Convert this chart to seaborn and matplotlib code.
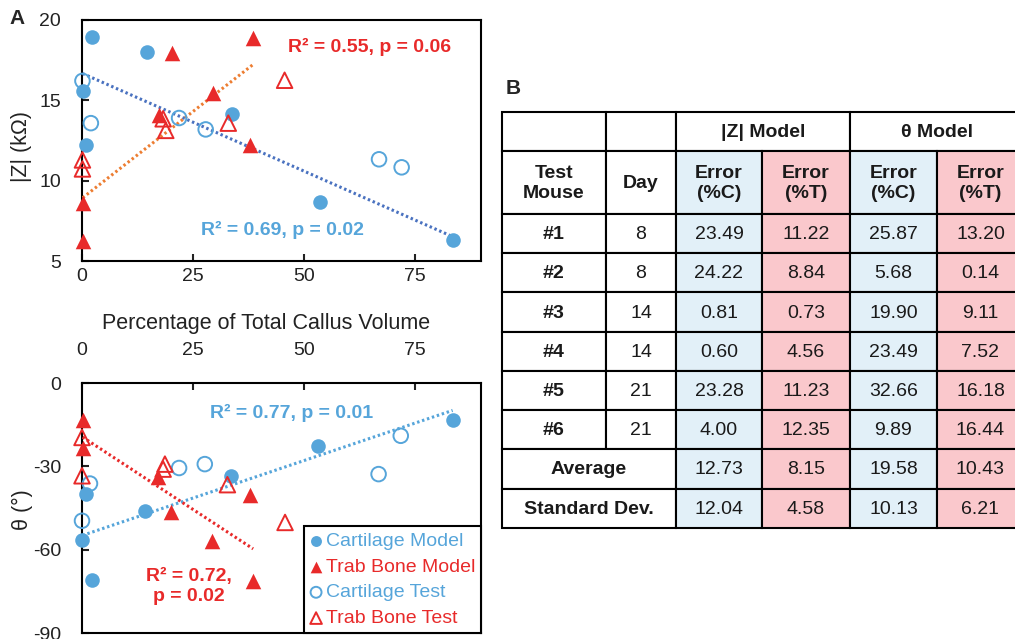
import numpy as np
import pandas as pd
import matplotlib
matplotlib.use("Agg")
import matplotlib.pyplot as plt
from matplotlib.patches import Rectangle
import seaborn as sns

# ---------------- data: panel A ----------------
# |Z| (kOhm) versus percentage of total callus volume
cart_model_x_z = [2.2, 14.6, 0.15, 0.9, 33.8, 53.6, 83.6]
cart_model_z = [18.92, 17.98, 15.56, 12.25, 14.17, 8.65, 6.29]
trab_model_x_z = [38.6, 20.2, 29.6, 17.3, 38.0, 0.15, 0.3]
trab_model_z = [18.85, 17.96, 15.48, 14.06, 12.19, 8.64, 6.25]
cart_test_x_z = [0.1, 2.0, 21.9, 27.9, 67.0, 72.1]
cart_test_z = [16.21, 13.58, 13.9, 13.19, 11.33, 10.83]
trab_test_x_z = [45.7, 18.3, 18.9, 33.0, 0.1, 0.1]
trab_test_z = [16.25, 13.85, 13.13, 13.58, 11.29, 10.73]

# phase angle (deg) versus percentage of total callus volume
cart_model_x_t = [83.6, 53.3, 33.7, 14.3, 0.9, 0.1, 2.2]
cart_model_t = [-13.2, -22.8, -33.6, -46.0, -39.8, -56.6, -71.0]
trab_model_x_t = [0.15, 0.15, 17.2, 20.0, 38.0, 29.4, 38.6]
trab_model_t = [-13.2, -23.4, -33.8, -46.4, -40.2, -57.0, -71.4]
cart_test_x_t = [71.9, 21.9, 27.7, 66.9, 1.8, 0.0]
cart_test_t = [-19.0, -30.6, -29.2, -32.8, -36.2, -49.6]
trab_test_x_t = [0.0, 0.0, 18.7, 18.3, 32.8, 45.8]
trab_test_t = [-19.6, -33.4, -29.2, -31.0, -36.6, -50.2]

stats_z_trab = "R\u00b2 = 0.55, p = 0.06"
stats_z_cart = "R\u00b2 = 0.69, p = 0.02"
stats_t_cart = "R\u00b2 = 0.77, p = 0.01"
stats_t_trab = "R\u00b2 = 0.72,\np = 0.02"

x_ticks = [0, 25, 50, 75]
z_ticks = [5, 10, 15, 20]
t_ticks = [0, -30, -60, -90]

# ---------------- data: panel B ----------------
mice = ["#1", "#2", "#3", "#4", "#5", "#6"]
days = [8, 8, 14, 14, 21, 21]
z_err_c = [23.49, 24.22, 0.81, 0.60, 23.28, 4.00]
z_err_t = [11.22, 8.84, 0.73, 4.56, 11.23, 12.35]
t_err_c = [25.87, 5.68, 19.90, 23.49, 32.66, 9.89]
t_err_t = [13.20, 0.14, 9.11, 7.52, 16.18, 16.44]
summary_labels = ["Average", "Standard Dev."]
summary_vals = [[12.73, 8.15, 19.58, 10.43],
                [12.04, 4.58, 10.13, 6.21]]

# ---------------- style ----------------
sns.set_theme(style="white")
plt.rcParams["font.family"] = ["Liberation Sans", "DejaVu Sans"]
plt.rcParams["axes.linewidth"] = 1.5
plt.rcParams["axes.edgecolor"] = "black"
plt.rcParams["axes.unicode_minus"] = False
plt.rcParams["xtick.color"] = "#222222"
plt.rcParams["ytick.color"] = "#222222"

BLUE = "#56a5da"
RED = "#e82a2a"
LINE_BLUE = "#4a72c0"
LINE_ORANGE = "#ed7d31"
CELL_BLUE = "#e2f0f8"
CELL_PINK = "#fac8cc"
DOTS = (0, (0.8, 0.9))

fig = plt.figure(figsize=(10.15, 6.39), dpi=100)
W, H = 1015, 639


def px_axes(left, top, right, bottom):
    return fig.add_axes([left / W, 1 - bottom / H, (right - left) / W, (bottom - top) / H])


ax_z = px_axes(82, 20, 481, 261)
ax_t = px_axes(82, 383, 481, 633)

S_CIRC, S_TRI = 110, 125


def draw_series(ax, cx_m, cy_m, tx_m, ty_m, cx_t, cy_t, tx_t, ty_t):
    sns.scatterplot(x=cx_m, y=cy_m, ax=ax, marker="o", s=S_CIRC, color=BLUE,
                    edgecolor=BLUE, linewidth=0, clip_on=False, zorder=4,
                    label="Cartilage Model")
    sns.scatterplot(x=tx_m, y=ty_m, ax=ax, marker="^", s=S_TRI, color=RED,
                    edgecolor=RED, linewidth=0, clip_on=False, zorder=4,
                    label="Trab Bone Model")
    sns.scatterplot(x=cx_t, y=cy_t, ax=ax, marker="o", s=S_CIRC, color=BLUE,
                    facecolor="none", edgecolor=BLUE, linewidth=1.4,
                    clip_on=False, zorder=4, label="Cartilage Test")
    sns.scatterplot(x=tx_t, y=ty_t, ax=ax, marker="^", s=S_TRI, color=RED,
                    facecolor="none", edgecolor=RED, linewidth=1.4,
                    clip_on=False, zorder=4, label="Trab Bone Test")


# ---- |Z| panel ----
draw_series(ax_z, cart_model_x_z, cart_model_z, trab_model_x_z, trab_model_z,
            cart_test_x_z, cart_test_z, trab_test_x_z, trab_test_z)
sns.regplot(x=np.array(cart_model_x_z), y=np.array(cart_model_z), ax=ax_z,
            scatter=False, ci=None, truncate=True,
            line_kws=dict(color=LINE_BLUE, lw=2.2, ls=DOTS, zorder=3))
sns.regplot(x=np.array(trab_model_x_z), y=np.array(trab_model_z), ax=ax_z,
            scatter=False, ci=None, truncate=True,
            line_kws=dict(color=LINE_ORANGE, lw=2.2, ls=DOTS, zorder=3))
ax_z.set_xlim(0, 90)
ax_z.set_ylim(5, 20)
ax_z.set_xticks(x_ticks)
ax_z.set_yticks(z_ticks)
ax_z.tick_params(axis="x", direction="in", length=5, width=1.5, pad=5,
                 labelsize=14, bottom=True, top=False)
ax_z.tick_params(axis="y", direction="in", length=5, width=1.5, pad=15,
                 labelsize=14, left=True, right=False)
ax_z.set_xlabel("")
ax_z.set_ylabel("")
ax_z.get_legend().remove()
ax_z.text(64.9, 18.3, stats_z_trab, color=RED, fontsize=14, fontweight="bold",
          ha="center", va="center")
ax_z.text(45.3, 6.94, stats_z_cart, color=BLUE, fontsize=14, fontweight="bold",
          ha="center", va="center")

# ---- theta panel ----
draw_series(ax_t, cart_model_x_t, cart_model_t, trab_model_x_t, trab_model_t,
            cart_test_x_t, cart_test_t, trab_test_x_t, trab_test_t)
sns.regplot(x=np.array(cart_model_x_t), y=np.array(cart_model_t), ax=ax_t,
            scatter=False, ci=None, truncate=True,
            line_kws=dict(color=BLUE, lw=2.2, ls=DOTS, zorder=3))
sns.regplot(x=np.array(trab_model_x_t), y=np.array(trab_model_t), ax=ax_t,
            scatter=False, ci=None, truncate=True,
            line_kws=dict(color=RED, lw=2.2, ls=DOTS, zorder=3))
ax_t.set_xlim(0, 90)
ax_t.set_ylim(-90, 0)
ax_t.set_xticks(x_ticks)
ax_t.set_yticks(t_ticks)
ax_t.xaxis.tick_top()
ax_t.tick_params(axis="x", direction="in", length=5, width=1.5, pad=17,
                 labelsize=14, top=True, bottom=False, labeltop=True,
                 labelbottom=False)
ax_t.tick_params(axis="y", direction="in", length=5, width=1.5, pad=15,
                 labelsize=14, left=True, right=False)
ax_t.set_xlabel("")
ax_t.set_ylabel("")
ax_t.text(47.3, -10.7, stats_t_cart, color=BLUE, fontsize=14, fontweight="bold",
          ha="center", va="center")
ax_t.text(24.1, -73.3, stats_t_trab, color=RED, fontsize=14, fontweight="bold",
          ha="center", va="center", multialignment="center", linespacing=1.2)

leg = ax_t.legend(loc="lower right", bbox_to_anchor=(1.0, 0.0), borderaxespad=0,
                  fontsize=14, frameon=True, fancybox=False, framealpha=1,
                  edgecolor="black", handlelength=0.6, handletextpad=0.2,
                  labelspacing=0.42, borderpad=0.3, markerscale=0.75)
leg.get_frame().set_linewidth(1.5)
for txt, col in zip(leg.get_texts(), [BLUE, RED, BLUE, RED]):
    txt.set_color(col)

# shared axis titles
fig.text(266 / W, 1 - 323 / H, "Percentage of Total Callus Volume",
         fontsize=15.5, ha="center", va="center", color="#222222")
fig.text(22 / W, 1 - 147 / H, "|Z| (k\u03a9)", fontsize=15.5, rotation=90,
         ha="center", va="center", color="#222222")
fig.text(22 / W, 1 - 510 / H, "\u03b8 (\u00b0)", fontsize=15.5, rotation=90,
         ha="center", va="center", color="#222222")
fig.text(17 / W, 1 - 19 / H, "A", fontsize=15, fontweight="bold",
         ha="center", va="center")
fig.text(513 / W, 1 - 88 / H, "B", fontsize=15, fontweight="bold",
         ha="center", va="center")

# ---------------- panel B: error table ----------------
tab = fig.add_axes([0, 0, 1, 1])
tab.set_xlim(0, W)
tab.set_ylim(H, 0)
tab.axis("off")

col_edges = [502, 606, 676, 762, 850, 937, 1024]
row_edges = [112, 151, 214, 253, 292, 332, 371, 410, 449, 489, 528]
value_fills = [CELL_BLUE, CELL_PINK, CELL_BLUE, CELL_PINK]


def cell(c0, c1, r0, r1, text, fill="white", bold=False):
    x0, x1 = col_edges[c0], col_edges[c1]
    y0, y1 = row_edges[r0], row_edges[r1]
    tab.add_patch(Rectangle((x0, y0), x1 - x0, y1 - y0, facecolor=fill,
                            edgecolor="black", linewidth=1.5, clip_on=False))
    tab.text((x0 + x1) / 2, (y0 + y1) / 2 + 1, text, fontsize=14,
             fontweight="bold" if bold else "normal", ha="center", va="center",
             multialignment="center", linespacing=1.2, color="#1a1a1a",
             clip_on=False)


# header rows
cell(0, 1, 0, 1, "")
cell(1, 2, 0, 1, "")
cell(2, 4, 0, 1, "|Z| Model", bold=True)
cell(4, 6, 0, 1, "\u03b8 Model", bold=True)
cell(0, 1, 1, 2, "Test\nMouse", bold=True)
cell(1, 2, 1, 2, "Day", bold=True)
for j, hdr in enumerate(["Error\n(%C)", "Error\n(%T)", "Error\n(%C)", "Error\n(%T)"]):
    cell(2 + j, 3 + j, 1, 2, hdr, fill=value_fills[j], bold=True)

# per-mouse rows
for i, (m, d) in enumerate(zip(mice, days)):
    r = 2 + i
    cell(0, 1, r, r + 1, m, bold=True)
    cell(1, 2, r, r + 1, str(d))
    for j, vals in enumerate([z_err_c, z_err_t, t_err_c, t_err_t]):
        cell(2 + j, 3 + j, r, r + 1, f"{vals[i]:.2f}", fill=value_fills[j])

# summary rows
for k, (lab, vals) in enumerate(zip(summary_labels, summary_vals)):
    r = 8 + k
    cell(0, 2, r, r + 1, lab, bold=True)
    for j, v in enumerate(vals):
        cell(2 + j, 3 + j, r, r + 1, f"{v:.2f}", fill=value_fills[j])

fig.savefig("out.png", dpi=100)
